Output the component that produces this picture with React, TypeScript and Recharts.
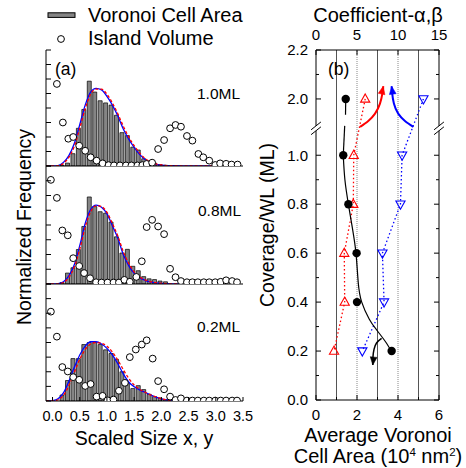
import {
  Bar,
  ComposedChart,
  Line,
  ReferenceLine,
  Scatter,
  XAxis,
  YAxis,
} from "recharts";

const W = 466;
const H = 468;
const FONT = '"Liberation Sans", Arial, Helvetica, sans-serif';

// ---------- (a) scaled size distributions ----------
// histogram of Voronoi cell area, bins of 0.1
const binX = [0.17, 0.27, 0.37, 0.47, 0.57, 0.67, 0.77, 0.87, 0.97, 1.07, 1.17, 1.27, 1.37, 1.47, 1.57, 1.67, 1.77, 1.87, 1.97, 2.07];
const cell10 = [0.05, 0.2, 0.85, 2.6, 3.9, 5.85, 5.1, 4.5, 4.35, 4.2, 3.5, 2.3, 2.1, 1.3, 1.1, 0.5, 0.3, 0.2, 0.1, 0.05];
const cell08 = [0.1, 0.74, 1.1, 2.34, 3.9, 5.9, 5.25, 4.9, 4.8, 4.2, 3.2, 2.1, 2.35, 1.2, 0.9, 0.5, 0.35, 0.3, 0.2, 0.15];
const cell02 = [0.41, 1.4, 2.9, 2.9, 3.86, 4.0, 4.0, 3.86, 3.5, 3.25, 2.85, 2.0, 1.25, 0.85, 1.05, 0.78, 0.46, 0.3, 0.2, 0.1];

// fitted curves (blue solid / red dashed)
const fitX10 = [-0.12, 0, 0.1, 0.2, 0.3, 0.4, 0.5, 0.6, 0.7, 0.8, 0.9, 1.0, 1.1, 1.2, 1.3, 1.4, 1.5, 1.6, 1.7, 1.8, 1.9, 2.0, 2.1, 2.2, 2.5, 3.0];
const blue10 = [0, 0, 0.03, 0.25, 0.72, 1.55, 2.85, 4.2, 5.1, 5.35, 5.25, 4.8, 4.2, 3.45, 2.55, 1.85, 1.28, 0.8, 0.45, 0.25, 0.12, 0.06, 0.03, 0.02, 0, 0];
const red10 = [0, 0, 0.02, 0.18, 0.6, 1.35, 2.6, 3.95, 4.95, 5.3, 5.3, 4.95, 4.35, 3.6, 2.75, 2.0, 1.4, 0.9, 0.52, 0.28, 0.14, 0.07, 0.03, 0.02, 0, 0];

const fitX08 = [-0.12, 0, 0.1, 0.2, 0.3, 0.4, 0.5, 0.6, 0.7, 0.8, 0.9, 1.0, 1.1, 1.2, 1.3, 1.4, 1.5, 1.6, 1.7, 1.8, 1.9, 2.0, 2.1, 2.2, 2.4];
const blue08 = [0, 0, 0.02, 0.15, 0.55, 1.3, 2.6, 4.1, 5.05, 5.35, 5.2, 4.75, 3.95, 3.1, 2.0, 1.25, 0.72, 0.42, 0.25, 0.14, 0.08, 0.04, 0.02, 0.01, 0];
const red08 = [0, 0, 0.01, 0.1, 0.45, 1.15, 2.35, 3.85, 4.9, 5.3, 5.25, 4.85, 4.1, 3.25, 2.2, 1.4, 0.82, 0.48, 0.28, 0.16, 0.09, 0.05, 0.02, 0.01, 0];

const fitX02 = [-0.12, -0.05, 0, 0.1, 0.2, 0.3, 0.4, 0.5, 0.6, 0.7, 0.8, 0.9, 1.0, 1.1, 1.2, 1.3, 1.4, 1.5, 1.6, 1.7, 1.8, 1.9, 2.0, 2.1, 2.2];
const blue02 = [0, 0, 0.02, 0.15, 0.55, 1.35, 2.3, 3.15, 3.75, 4.05, 4.05, 3.9, 3.6, 3.15, 2.55, 1.85, 1.3, 0.98, 0.76, 0.6, 0.42, 0.27, 0.15, 0.07, 0];
const red02 = [0, 0, 0, 0.08, 0.38, 1.05, 1.95, 2.85, 3.5, 3.9, 4.0, 3.95, 3.75, 3.35, 2.8, 2.15, 1.55, 1.1, 0.8, 0.6, 0.42, 0.28, 0.16, 0.08, 0.02];

// island volume (open circles)
const volX10 = [0.08, 0.19, 0.29, 0.38, 0.49, 0.6, 0.7, 0.81, 0.92, 1.03, 1.13, 1.24, 1.35, 1.45, 1.56, 1.65, 1.73, 1.83, 1.94, 2.05, 2.16, 2.26, 2.36, 2.47, 2.57, 2.68, 2.77, 2.88, 2.99, 3.08, 3.19, 3.29, 3.4];
const vol10 = [5.66, 3.0, 1.88, 2.0, 1.4, 1.05, 0.6, 0.37, 0.18, 0.06, 0.04, 0.04, 0.04, 0.04, 0.04, 0.06, 0.14, 0.23, 1.17, 1.79, 2.6, 2.83, 2.71, 2.07, 1.75, 0.83, 0.6, 0.37, 0.07, 0.18, 0.15, 0.1, 0.1];
const volX08 = [-0.03, 0.08, 0.18, 0.28, 0.38, 0.49, 0.58, 0.69, 0.8, 0.9, 1.01, 1.12, 1.22, 1.32, 1.42, 1.54, 1.64, 1.73, 1.83, 1.94, 2.05, 2.16, 2.26, 2.36, 2.47, 2.57, 2.67, 2.78, 2.88, 2.99, 3.09, 3.19, 3.3, 3.39];
const vol08 = [7.06, 5.84, 3.63, 3.3, 1.75, 1.22, 0.74, 0.39, 0.12, 0.1, 0.1, 0.1, 0.1, 0.28, 0.15, 0.48, 1.54, 3.86, 4.35, 3.9, 3.38, 1.03, 0.46, 0.2, 0.12, 0.12, 0.12, 0.12, 0.12, 0.12, 0.15, 0.25, 0.2, 0.12];
const volX02 = [-0.03, 0.08, 0.18, 0.28, 0.38, 0.49, 0.6, 0.7, 0.81, 0.92, 1.01, 1.12, 1.22, 1.33, 1.42, 1.53, 1.64, 1.73, 1.84, 1.94, 2.05, 2.16, 2.26, 2.36, 2.47, 2.57, 2.67, 2.78, 2.88, 2.99, 3.09, 3.19, 3.3, 3.39];
const vol02 = [6.11, 4.4, 2.32, 2.02, 1.63, 1.45, 1.03, 1.16, 0.3, 0.35, 0.05, 0.1, 0.7, 1.24, 3.0, 3.52, 3.86, 4.15, 2.9, 1.36, 0.8, 0.3, 0.07, 0.18, 0.03, 0.03, 0.03, 0.03, 0.03, 0.03, 0.03, 0.03, 0.03, 0.03];

const sizeTicks = [0, 0.5, 1.0, 1.5, 2.0, 2.5, 3.0, 3.5];
const freqTicks = [0, 1, 2, 3, 4, 5, 6, 7, 8];
const SIZE_DOMAIN: [number, number] = [-0.12, 3.5];

// ---------- (b) coverage dependence ----------
const coverage = [2.0, 1.0, 0.8, 0.6, 0.4, 0.2];
const avgArea = [1.45, 1.33, 1.58, 1.98, 2.0, 3.69]; // 10^4 nm^2
const alpha = [6.0, 4.6, 4.55, 3.45, 3.5, 2.2];
const beta = [13.1, 10.5, 10.3, 8.1, 8.3, 5.65];

// guide curve through the cell area points
const fitArea = [1.33, 1.41, 1.58, 1.78, 1.95, 2.06, 2.23, 2.6, 2.96, 3.45, 3.69];
const fitCov = [1.0, 0.9, 0.8, 0.7, 0.6, 0.48, 0.4, 0.33, 0.286, 0.231, 0.195];
// the same guide, split by the axis break
const linkUpArea = [1.45, 1.44];
const linkUpCov = [2.0, 1.935];
const linkLoArea = [1.4, 1.33];
const linkLoCov = [1.12, 1.0];

// arrows (x in 10^4 nm^2, y in plotted axis units)
const arrowBlackX = [3.2, 2.96, 2.83, 2.78, 2.77];
const arrowBlackY = [0.252, 0.234, 0.207, 0.177, 0.143];
const arrowRedX = [2.15, 2.55, 2.88, 3.12, 3.25, 3.28];
const arrowRedY = [1.116, 1.14, 1.17, 1.211, 1.258, 1.282];
const arrowBlueX = [4.75, 4.34, 4.01, 3.8, 3.71, 3.69];
const arrowBlueY = [1.116, 1.14, 1.17, 1.211, 1.258, 1.282];

const areaTicks = [0, 1, 2, 3, 4, 5, 6];
const gridArea = [1, 2, 3, 4, 5];
const coefTicks = [0, 5, 10, 15];
const covTicks = [0, 0.1, 0.2, 0.3, 0.4, 0.5, 0.6, 0.7, 0.8, 0.9, 1.0, 2.0, 2.1, 2.2];

const BREAK_SHIFT = 0.77;
const brk = (c: number) => (c > 1.5 ? c - BREAK_SHIFT : c);
const COV_TOP = brk(2.2);
const BREAK_LO = 1.1;
const BREAK_HI = 1.12;

type Pt = { x: number; y: number };
const zip = (xs: number[], ys: number[]): Pt[] => xs.map((x, i) => ({ x, y: ys[i] }));
const zipCov = (xs: number[], cs: number[]): Pt[] => xs.map((x, i) => ({ x, y: brk(cs[i]) }));

// ---------- ticks & marks ----------
const FreqTick = (p: any) => (
  <line x1={p.x} x2={p.x + 5} y1={p.y} y2={p.y} stroke="#000" strokeWidth={1} />
);

const SizeTick = (p: any) => (
  <g>
    <line x1={p.x} x2={p.x} y1={p.y} y2={p.y - 4} stroke="#000" strokeWidth={1} />
    <text x={p.x} y={p.y + 19.5} textAnchor="middle" fontSize={14.5} fill="#000">
      {Number(p.payload.value).toFixed(1)}
    </text>
  </g>
);

const AreaTick = (p: any) => {
  const v = Number(p.payload.value);
  const major = v % 2 === 0;
  return (
    <g>
      <line x1={p.x} x2={p.x} y1={p.y} y2={p.y - (major ? 5 : 3)} stroke="#000" strokeWidth={1} />
      {major && (
        <text x={p.x} y={p.y + 20} textAnchor="middle" fontSize={15} fill="#000">
          {v}
        </text>
      )}
    </g>
  );
};

const CoefTick = (p: any) => (
  <g>
    <line x1={p.x} x2={p.x} y1={p.y} y2={p.y + 5} stroke="#000" strokeWidth={1} />
    <text x={p.x} y={p.y - 10} textAnchor="middle" fontSize={15} fill="#000">
      {p.payload.value}
    </text>
  </g>
);

const isCovLabel = (c: number) => Math.round(c * 10) % 2 === 0;

const CovTickLeft = (p: any) => {
  const c = covTicks[p.index] ?? 0;
  const major = isCovLabel(c);
  return (
    <g>
      <line x1={p.x} x2={p.x + (major ? 5 : 3)} y1={p.y} y2={p.y} stroke="#000" strokeWidth={1} />
      {major && (
        <text x={p.x - 8} y={p.y + 5.3} textAnchor="end" fontSize={15} fill="#000">
          {c.toFixed(1)}
        </text>
      )}
    </g>
  );
};

const CovTickRight = (p: any) => {
  const c = covTicks[p.index] ?? 0;
  const major = isCovLabel(c);
  return <line x1={p.x} x2={p.x - (major ? 5 : 3)} y1={p.y} y2={p.y} stroke="#000" strokeWidth={1} />;
};

const OpenCircle = (p: any) => (
  <circle cx={p.cx} cy={p.cy} r={3.4} fill="#fff" stroke="#000" strokeWidth={1} />
);

const FilledCircle = (p: any) => <circle cx={p.cx} cy={p.cy} r={4.2} fill="#000" />;

const triangleDot = (color: string, up: boolean) => (p: any) => {
  const s = up ? 1 : -1;
  return (
    <path
      key={p.index}
      d={`M${p.cx},${p.cy - 5 * s} L${p.cx + 4.6},${p.cy + 3.2 * s} L${p.cx - 4.6},${p.cy + 3.2 * s} Z`}
      fill="none"
      stroke={color}
      strokeWidth={1.1}
    />
  );
};

const arrowDot = (n: number, angle: number, color: string) => (p: any) =>
  p.index === n - 1 ? (
    <path
      key={p.index}
      d="M0,0 L-8,-3.4 L-8,3.4 Z"
      transform={`translate(${p.cx},${p.cy}) rotate(${angle})`}
      fill={color}
      stroke={color}
      strokeWidth={0.5}
    />
  ) : (
    <g key={p.index} />
  );

// ---------- panel (a) ----------
const A_LEFT = 46;
const A_RIGHT = 243;

type FreqProps = {
  top: number;
  bottom: number;
  bars: Pt[];
  blue: Pt[];
  red: Pt[];
  vol: Pt[];
  showX?: boolean;
};

const layer = { position: "absolute" as const, left: 0, top: 0 };

function FreqPanel({ top, bottom, bars, blue, red, vol, showX }: FreqProps) {
  return (
    <>
      {/* histogram on its own layer so its bar width follows the bin spacing only */}
      <div style={layer}>
        <ComposedChart
          width={W}
          height={H}
          data={bars}
          margin={{ top, bottom: H - bottom, left: A_LEFT, right: W - A_RIGHT }}
        >
          <XAxis hide type="number" dataKey="x" domain={SIZE_DOMAIN} allowDataOverflow />
          <YAxis hide type="number" domain={[0, 8]} allowDataOverflow />
          <Bar dataKey="y" barSize={4} fill="#858585" stroke="#000" strokeWidth={0.7} isAnimationActive={false} />
        </ComposedChart>
      </div>
      <div style={layer}>
        <ComposedChart
          width={W}
          height={H}
          margin={{ top, bottom: H - bottom - 1, left: A_LEFT - 1, right: W - A_RIGHT }}
        >
          <XAxis
            type="number"
            dataKey="x"
            domain={SIZE_DOMAIN}
            allowDataOverflow
            ticks={sizeTicks}
            interval={0}
            height={1}
            tickSize={0}
            tickMargin={0}
            tickLine={false}
            axisLine={{ stroke: "#000", strokeWidth: 1 }}
            tick={showX ? SizeTick : false}
          />
          <YAxis
            type="number"
            domain={[0, 8]}
            allowDataOverflow
            ticks={freqTicks}
            interval={0}
            width={1}
            tickSize={0}
            tickMargin={0}
            tickLine={false}
            axisLine={{ stroke: "#000", strokeWidth: 1 }}
            tick={FreqTick}
          />
          <Line data={blue} dataKey="y" type="monotone" stroke="#0000ff" strokeWidth={1.3} dot={false} activeDot={false} isAnimationActive={false} />
          <Line data={red} dataKey="y" type="monotone" stroke="#ff0000" strokeWidth={1.3} strokeDasharray="3 2" dot={false} activeDot={false} isAnimationActive={false} />
          <Scatter data={vol} dataKey="y" shape={OpenCircle} isAnimationActive={false} />
        </ComposedChart>
      </div>
    </>
  );
}

// ---------- panel (b) ----------
const B_LEFT = 316;
const B_RIGHT = 439;
const B_TOP = 50;
const B_BOTTOM = 400;

function CoveragePanel() {
  const ax = { xAxisId: "area", yAxisId: "cov" } as const;
  const coef = { xAxisId: "coef", yAxisId: "cov" } as const;
  const slash = (x: number, y: number) => [
    { x: x - 0.24, y: y - 0.016 },
    { x: x + 0.24, y: y + 0.016 },
  ];
  return (
    <div style={layer}>
      <ComposedChart
        width={W}
        height={H}
        margin={{ top: B_TOP - 1, bottom: H - B_BOTTOM - 1, left: B_LEFT - 1, right: W - B_RIGHT - 1 }}
      >
        <XAxis
          xAxisId="area"
          type="number"
          dataKey="x"
          domain={[0, 6]}
          allowDataOverflow
          ticks={areaTicks}
          interval={0}
          height={1}
          tickSize={0}
          tickMargin={0}
          tickLine={false}
          axisLine={{ stroke: "#000", strokeWidth: 1 }}
          tick={AreaTick}
        />
        <XAxis
          xAxisId="coef"
          orientation="top"
          type="number"
          dataKey="x"
          domain={[0, 15]}
          allowDataOverflow
          ticks={coefTicks}
          interval={0}
          height={1}
          tickSize={0}
          tickMargin={0}
          tickLine={false}
          axisLine={{ stroke: "#000", strokeWidth: 1 }}
          tick={CoefTick}
        />
        <YAxis
          yAxisId="cov"
          type="number"
          domain={[0, COV_TOP]}
          allowDataOverflow
          ticks={covTicks.map(brk)}
          interval={0}
          width={1}
          tickSize={0}
          tickMargin={0}
          tickLine={false}
          axisLine={false}
          tick={CovTickLeft}
        />
        <YAxis
          yAxisId="covR"
          orientation="right"
          type="number"
          domain={[0, COV_TOP]}
          allowDataOverflow
          ticks={covTicks.map(brk)}
          interval={0}
          width={1}
          tickSize={0}
          tickMargin={0}
          tickLine={false}
          axisLine={false}
          tick={CovTickRight}
        />

        {gridArea.map((g) => (
          <ReferenceLine
            key={g}
            {...ax}
            ifOverflow="visible"
            segment={[{ x: g, y: 0 }, { x: g, y: COV_TOP }]}
            stroke={g % 2 === 1 ? "#555" : "#888"}
            strokeWidth={1}
            strokeDasharray={g % 2 === 1 ? undefined : "1 1"}
          />
        ))}

        {/* broken left / right axes */}
        {[0, 6].map((x) => (
          <ReferenceLine key={`lo${x}`} {...ax} ifOverflow="visible" segment={[{ x, y: 0 }, { x, y: BREAK_LO }]} stroke="#000" strokeWidth={1} />
        ))}
        {[0, 6].map((x) => (
          <ReferenceLine key={`hi${x}`} {...ax} ifOverflow="visible" segment={[{ x, y: BREAK_HI }, { x, y: COV_TOP }]} stroke="#000" strokeWidth={1} />
        ))}
        {[0, 6].map((x) =>
          [BREAK_LO, BREAK_HI].map((y) => (
            <ReferenceLine key={`s${x}-${y}`} {...ax} ifOverflow="visible" segment={slash(x, y)} stroke="#000" strokeWidth={1} />
          ))
        )}

        <Line {...coef} data={zipCov(alpha, coverage)} dataKey="y" type="linear" stroke="#ff0000" strokeWidth={1.3} strokeDasharray="1.5 2.5" dot={triangleDot("#ff0000", true)} activeDot={false} isAnimationActive={false} />
        <Line {...coef} data={zipCov(beta, coverage)} dataKey="y" type="linear" stroke="#0000ff" strokeWidth={1.3} strokeDasharray="1.5 2.5" dot={triangleDot("#0000ff", false)} activeDot={false} isAnimationActive={false} />

        <Line {...ax} data={zipCov(fitArea, fitCov)} dataKey="y" type="natural" stroke="#000" strokeWidth={1.2} dot={false} activeDot={false} isAnimationActive={false} />
        <Line {...ax} data={zipCov(linkUpArea, linkUpCov)} dataKey="y" type="linear" stroke="#000" strokeWidth={1.2} dot={false} activeDot={false} isAnimationActive={false} />
        <Line {...ax} data={zipCov(linkLoArea, linkLoCov)} dataKey="y" type="linear" stroke="#000" strokeWidth={1.2} dot={false} activeDot={false} isAnimationActive={false} />

        <Line {...ax} data={zip(arrowBlackX, arrowBlackY)} dataKey="y" type="natural" stroke="#000" strokeWidth={1.5} dot={arrowDot(arrowBlackX.length, 96, "#000")} activeDot={false} isAnimationActive={false} />
        <Line {...ax} data={zip(arrowRedX, arrowRedY)} dataKey="y" type="natural" stroke="#ff0000" strokeWidth={2} dot={arrowDot(arrowRedX.length, -78, "#ff0000")} activeDot={false} isAnimationActive={false} />
        <Line {...ax} data={zip(arrowBlueX, arrowBlueY)} dataKey="y" type="natural" stroke="#0000ff" strokeWidth={2} dot={arrowDot(arrowBlueX.length, -98, "#0000ff")} activeDot={false} isAnimationActive={false} />

        <Scatter {...ax} data={zipCov(avgArea, coverage)} dataKey="y" shape={FilledCircle} isAnimationActive={false} />
      </ComposedChart>
    </div>
  );
}

export default function App() {
  return (
    <div
      style={{
        position: "absolute",
        left: 0,
        top: 0,
        width: W,
        height: H,
        background: "#fff",
        fontFamily: FONT,
        color: "#000",
        overflow: "hidden",
      }}
    >
      <FreqPanel top={50} bottom={166} bars={zip(binX, cell10)} blue={zip(fitX10, blue10)} red={zip(fitX10, red10)} vol={zip(volX10, vol10)} />
      <FreqPanel top={166} bottom={284} bars={zip(binX, cell08)} blue={zip(fitX08, blue08)} red={zip(fitX08, red08)} vol={zip(volX08, vol08)} />
      <FreqPanel top={284} bottom={401} bars={zip(binX, cell02)} blue={zip(fitX02, blue02)} red={zip(fitX02, red02)} vol={zip(volX02, vol02)} showX />
      <CoveragePanel />

      <svg width={W} height={H} style={{ position: "absolute", left: 0, top: 0, pointerEvents: "none" }} fontFamily={FONT} fill="#000">
        {/* legend */}
        <rect x={48} y={12.8} width={27} height={4.6} fill="#858585" stroke="#000" strokeWidth={1} />
        <text x={88} y={21.7} fontSize={20}>Voronoi Cell Area</text>
        <circle cx={61} cy={39} r={3.4} fill="#fff" stroke="#000" strokeWidth={1} />
        <text x={88} y={45} fontSize={20}>Island Volume</text>

        <text x={55} y={75} fontSize={17.5}>(a)</text>
        <text x={197} y={99.3} fontSize={15.5}>1.0ML</text>
        <text x={198} y={215.7} fontSize={15.5}>0.8ML</text>
        <text x={197} y={332.3} fontSize={15.5}>0.2ML</text>
        <text x={144} y={445} fontSize={19.5} textAnchor="middle">Scaled Size x, y</text>
        <text x={31} y={227} fontSize={19.5} textAnchor="middle" transform="rotate(-90 31 227)">Normalized Frequency</text>

        <text x={328} y={75} fontSize={17.5}>(b)</text>
        <text x={378} y={21.5} fontSize={20} textAnchor="middle">Coefficient-α,β</text>
        <text x={273.5} y={225} fontSize={19.5} textAnchor="middle" transform="rotate(-90 273.5 225)">Coverage/WL (ML)</text>
        <text x={378} y={441.7} fontSize={20} textAnchor="middle">Average Voronoi</text>
        <text x={378} y={462.5} fontSize={20} textAnchor="middle">
          Cell Area (10<tspan fontSize={11.5} dy={-7}>4</tspan>
          <tspan dy={7}> nm</tspan>
          <tspan fontSize={11.5} dy={-7}>2</tspan>
          <tspan dy={7}>)</tspan>
        </text>
      </svg>
    </div>
  );
}
